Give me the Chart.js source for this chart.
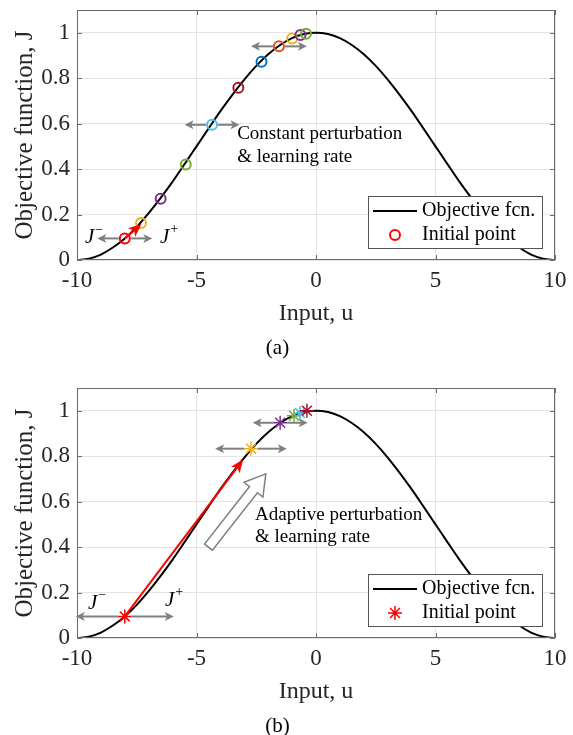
<!DOCTYPE html>
<html>
<head>
<meta charset="utf-8">
<script src="https://cdn.jsdelivr.net/npm/chart.js@4.4.1/dist/chart.umd.min.js"></script>
<style>
  html, body { margin: 0; padding: 0; background: #fff; overflow: hidden; }
  .panel { position: absolute; left: 0; width: 573px; height: 378px; }
</style>
</head>
<body>
<div class="panel" style="top:0"><canvas id="chartA" width="573" height="378"></canvas></div>
<div class="panel" style="top:378px"><canvas id="chartB" width="573" height="378"></canvas></div>
<script>
// objective function J(u)
const uGrid = [-10, -9.5, -9, -8.5, -8, -7.5, -7, -6.5, -6, -5.5, -5, -4.5, -4, -3.5, -3, -2.5, -2, -1.5, -1, -0.5,
               0, 0.5, 1, 1.5, 2, 2.5, 3, 3.5, 4, 4.5, 5, 5.5, 6, 6.5, 7, 7.5, 8, 8.5, 9, 9.5, 10];
const jCurve = [0, 0.006, 0.024, 0.055, 0.095, 0.146, 0.206, 0.273, 0.345, 0.422, 0.5, 0.578, 0.655, 0.727, 0.794, 0.854, 0.905, 0.946, 0.976, 0.994,
                1, 0.994, 0.976, 0.946, 0.905, 0.854, 0.794, 0.727, 0.655, 0.578, 0.5, 0.422, 0.345, 0.273, 0.206, 0.146, 0.095, 0.055, 0.024, 0.006, 0];

const xTicks = [-10, -5, 0, 5, 10];
const yTicks = [0, 0.2, 0.4, 0.6, 0.8, 1];

// initial point (same for both)
const startU = -8;
const startJ = 0.095;

// (a) constant perturbation
const iterUA = [-7.32, -6.5, -5.45, -4.35, -3.25, -2.28, -1.55, -1.0, -0.65, -0.42];
const iterJA = [0.163, 0.27, 0.42, 0.595, 0.758, 0.872, 0.94, 0.975, 0.99, 0.995];
const iterColorsA = ['#EDB120', '#7E2F8E', '#77AC30', '#4DBEEE', '#A2142F', '#0072BD', '#D95319', '#EDB120', '#7E2F8E', '#77AC30'];
const pertCenterA = [-8, -4.35, -1.55];
const pertLevelA = [0.095, 0.595, 0.94];
const pertHalfA = [1.15, 1.15, 1.17];
const stepEndA = [-7.3, 0.158];

// (b) adaptive perturbation
const iterUB = [-2.72, -1.5, -0.92, -0.67, -0.38];
const iterJB = [0.833, 0.947, 0.978, 0.99, 1.0];
const iterColorsB = ['#EDB120', '#7E2F8E', '#77AC30', '#4DBEEE', '#A2142F'];
const pertCenterB = [-8, -2.72, -1.5];
const pertLevelB = [0.095, 0.833, 0.947];
const pertHalfB = [2.05, 1.5, 1.15];
const stepEndB = [-3.05, 0.785];
const bigArrowB = [[-4.5, 0.40], [-2.1, 0.722]];

const serif = "'Liberation Serif', 'Times New Roman', serif";
const axisColor = '#6b6b6b';
const textColor = '#262626';
const gray = '#808080';

function arrow(ctx, x0, y0, x1, y1, color, width, len, half) {
  const a = Math.atan2(y1 - y0, x1 - x0);
  const c = Math.cos(a), s = Math.sin(a);
  const bx = x1 - len * c, by = y1 - len * s;
  ctx.strokeStyle = color;
  ctx.lineWidth = width;
  ctx.beginPath();
  ctx.moveTo(x0, y0);
  ctx.lineTo(x1 - len * 0.6 * c, y1 - len * 0.6 * s);
  ctx.stroke();
  ctx.fillStyle = color;
  ctx.beginPath();
  ctx.moveTo(x1, y1);
  ctx.lineTo(bx + half * s, by - half * c);
  ctx.lineTo(x1 - len * 0.75 * c, y1 - len * 0.75 * s);
  ctx.lineTo(bx - half * s, by + half * c);
  ctx.closePath();
  ctx.fill();
}

function jLabel(ctx, x, y, sign) {
  ctx.fillStyle = '#000';
  ctx.textAlign = 'left';
  ctx.textBaseline = 'middle';
  ctx.font = 'italic 21px ' + serif;
  ctx.fillText('J', x, y);
  const w = ctx.measureText('J').width;
  ctx.font = '14px ' + serif;
  ctx.fillText(sign, x + w + 1, y - 8);
}

function extras(cfg) {
  return {
    id: 'extras',
    afterDatasetsDraw(chart) {
      const ctx = chart.ctx;
      const xs = chart.scales.x, ys = chart.scales.y;
      const ca = chart.chartArea;
      const px = v => xs.getPixelForValue(v);
      const py = v => ys.getPixelForValue(v);
      ctx.save();

      // axes box + inward ticks
      ctx.strokeStyle = axisColor;
      ctx.lineWidth = 1;
      ctx.strokeRect(ca.left + 0.5, ca.top + 0.5, ca.right - ca.left - 1, ca.bottom - ca.top - 1);
      ctx.beginPath();
      xTicks.forEach(v => {
        const x = Math.round(px(v)) + 0.5;
        ctx.moveTo(x, ca.bottom); ctx.lineTo(x, ca.bottom - 5);
        ctx.moveTo(x, ca.top); ctx.lineTo(x, ca.top + 5);
      });
      yTicks.forEach(v => {
        const y = Math.round(py(v)) + 0.5;
        ctx.moveTo(ca.left, y); ctx.lineTo(ca.left + 5, y);
        ctx.moveTo(ca.right, y); ctx.lineTo(ca.right - 5, y);
      });
      ctx.stroke();

      // perturbation arrows
      cfg.pertCenter.forEach((u, i) => {
        const y = py(cfg.pertLevel[i]);
        const xc = px(u);
        arrow(ctx, xc - cfg.gap, y, px(u - cfg.pertHalf[i]), y, gray, 2, 9, 4.5);
        arrow(ctx, xc + cfg.gap, y, px(u + cfg.pertHalf[i]), y, gray, 2, 9, 4.5);
      });

      // step arrow
      arrow(ctx, px(startU), py(startJ), px(cfg.stepEnd[0]), py(cfg.stepEnd[1]), '#FF0000', 2, 13, 5.5);

      // hollow block arrow
      if (cfg.bigArrow) {
        const tx = px(cfg.bigArrow[0][0]), ty = py(cfg.bigArrow[0][1]);
        const hx = px(cfg.bigArrow[1][0]), hy = py(cfg.bigArrow[1][1]);
        const L = Math.hypot(hx - tx, hy - ty);
        const dx = (hx - tx) / L, dy = (hy - ty) / L;
        const nx = -dy, ny = dx;
        const h = 20, hw = 12, sw = 5;
        const bx = hx - dx * h, by = hy - dy * h;
        ctx.beginPath();
        ctx.moveTo(tx + nx * sw, ty + ny * sw);
        ctx.lineTo(bx + nx * sw, by + ny * sw);
        ctx.lineTo(bx + nx * hw, by + ny * hw);
        ctx.lineTo(hx, hy);
        ctx.lineTo(bx - nx * hw, by - ny * hw);
        ctx.lineTo(bx - nx * sw, by - ny * sw);
        ctx.lineTo(tx - nx * sw, ty - ny * sw);
        ctx.closePath();
        ctx.fillStyle = '#fff';
        ctx.fill();
        ctx.strokeStyle = gray;
        ctx.lineWidth = 1.5;
        ctx.stroke();
      }

      // J- / J+ labels
      jLabel(ctx, px(cfg.jMinus[0]), py(cfg.jMinus[1]), '\u2212');
      jLabel(ctx, px(cfg.jPlus[0]), py(cfg.jPlus[1]), '+');

      // note text
      ctx.fillStyle = '#000';
      ctx.font = '19px ' + serif;
      ctx.textAlign = 'left';
      ctx.textBaseline = 'middle';
      cfg.note.forEach((line, i) => ctx.fillText(line, px(cfg.noteU), py(cfg.noteJ[i])));

      // legend box
      const lx = ca.right - 187, ly = ca.bottom - 64, lw = 174, lh = 52;
      ctx.fillStyle = '#fff';
      ctx.fillRect(lx, ly, lw, lh);
      ctx.strokeStyle = '#555';
      ctx.lineWidth = 1;
      ctx.strokeRect(lx + 0.5, ly + 0.5, lw, lh);
      const curve = chart.data.datasets[0];
      const init = chart.data.datasets[2];
      ctx.strokeStyle = curve.borderColor;
      ctx.lineWidth = 2;
      ctx.beginPath();
      ctx.moveTo(lx + 5, ly + 15);
      ctx.lineTo(lx + 49, ly + 15);
      ctx.stroke();
      ctx.strokeStyle = init.pointBorderColor;
      ctx.fillStyle = 'rgba(0,0,0,0)';
      ctx.lineWidth = init.pointBorderWidth;
      Chart.helpers.drawPoint(ctx, { pointStyle: init.pointStyle, radius: init.pointRadius, borderWidth: init.pointBorderWidth, rotation: 0 }, lx + 27, ly + 39);
      ctx.fillStyle = '#000';
      ctx.font = '20px ' + serif;
      ctx.textBaseline = 'middle';
      ctx.fillText(curve.label, lx + 54, ly + 15);
      ctx.fillText(init.label, lx + 54, ly + 39);

      ctx.restore();
    }
  };
}

function buildChart(id, cfg) {
  const tickFont = { family: serif, size: 23 };
  const labelFont = { family: serif, size: 24 };
  return new Chart(document.getElementById(id), {
    type: 'scatter',
    data: {
      datasets: [
        {
          type: 'line',
          label: 'Objective fcn.',
          data: uGrid.map((u, i) => ({ x: u, y: jCurve[i] })),
          borderColor: '#000',
          borderWidth: 2,
          pointRadius: 0,
          cubicInterpolationMode: 'monotone',
          fill: false,
          order: 3
        },
        {
          label: 'Iterates',
          data: cfg.iterU.map((u, i) => ({ x: u, y: cfg.iterJ[i] })),
          pointStyle: cfg.marker,
          pointRadius: cfg.radius,
          pointBorderWidth: cfg.markerWidth,
          pointBorderColor: cfg.iterColors,
          pointBackgroundColor: 'rgba(0,0,0,0)',
          order: 2
        },
        {
          label: 'Initial point',
          data: [{ x: startU, y: startJ }],
          pointStyle: cfg.marker,
          pointRadius: cfg.radius,
          pointBorderWidth: cfg.markerWidth,
          pointBorderColor: '#FF0000',
          pointBackgroundColor: 'rgba(0,0,0,0)',
          order: 1
        }
      ]
    },
    options: {
      responsive: false,
      animation: false,
      events: [],
      layout: { padding: { top: 10, right: 18, left: 0, bottom: 0 } },
      plugins: {
        legend: { display: false },
        tooltip: { enabled: false },
        title: {
          display: true,
          position: 'bottom',
          text: cfg.caption,
          color: '#000',
          font: { family: serif, size: 21, weight: 'normal' },
          padding: { top: 0, bottom: 17.4 }
        }
      },
      scales: {
        x: {
          type: 'linear',
          min: -10,
          max: 10,
          afterBuildTicks: s => { s.ticks = xTicks.map(v => ({ value: v })); },
          afterFit: s => { s.height = 75.4; s.paddingLeft = 0; s.paddingRight = 0; },
          ticks: { callback: v => String(v), font: tickFont, color: textColor, padding: 7, maxRotation: 0, autoSkip: false },
          grid: { color: '#e4e4e4', drawTicks: false },
          border: { display: false },
          title: { display: true, text: 'Input, u', font: labelFont, color: textColor, padding: { top: 0, bottom: 7 } }
        },
        y: {
          type: 'linear',
          min: 0,
          max: 1.1,
          afterBuildTicks: s => { s.ticks = yTicks.map(v => ({ value: v })); },
          afterFit: s => { s.width = 77; s.paddingTop = 0; s.paddingBottom = 0; },
          ticks: { callback: v => String(v), font: tickFont, color: textColor, padding: 7, autoSkip: false },
          grid: { color: '#e4e4e4', drawTicks: false },
          border: { display: false },
          title: { display: true, text: 'Objective function, J', font: { family: serif, size: 25 }, color: textColor, padding: { top: 10, bottom: 0 } }
        }
      }
    },
    plugins: [extras(cfg)]
  });
}

buildChart('chartA', {
  caption: '(a)',
  iterU: iterUA, iterJ: iterJA, iterColors: iterColorsA,
  marker: 'circle', radius: 5, markerWidth: 2,
  pertCenter: pertCenterA, pertLevel: pertLevelA, pertHalf: pertHalfA, gap: 6,
  stepEnd: stepEndA,
  jMinus: [-9.67, 0.097], jPlus: [-6.53, 0.1],
  note: ['Constant perturbation', '& learning rate'], noteU: -3.3, noteJ: [0.555, 0.454]
});

buildChart('chartB', {
  caption: '(b)',
  iterU: iterUB, iterJ: iterJB, iterColors: iterColorsB,
  marker: 'star', radius: 7, markerWidth: 1.5,
  pertCenter: pertCenterB, pertLevel: pertLevelB, pertHalf: pertHalfB, gap: 7,
  stepEnd: stepEndB,
  bigArrow: bigArrowB,
  jMinus: [-9.54, 0.154], jPlus: [-6.32, 0.167],
  note: ['Adaptive perturbation', '& learning rate'], noteU: -2.55, noteJ: [0.542, 0.445]
});
</script>
</body>
</html>
